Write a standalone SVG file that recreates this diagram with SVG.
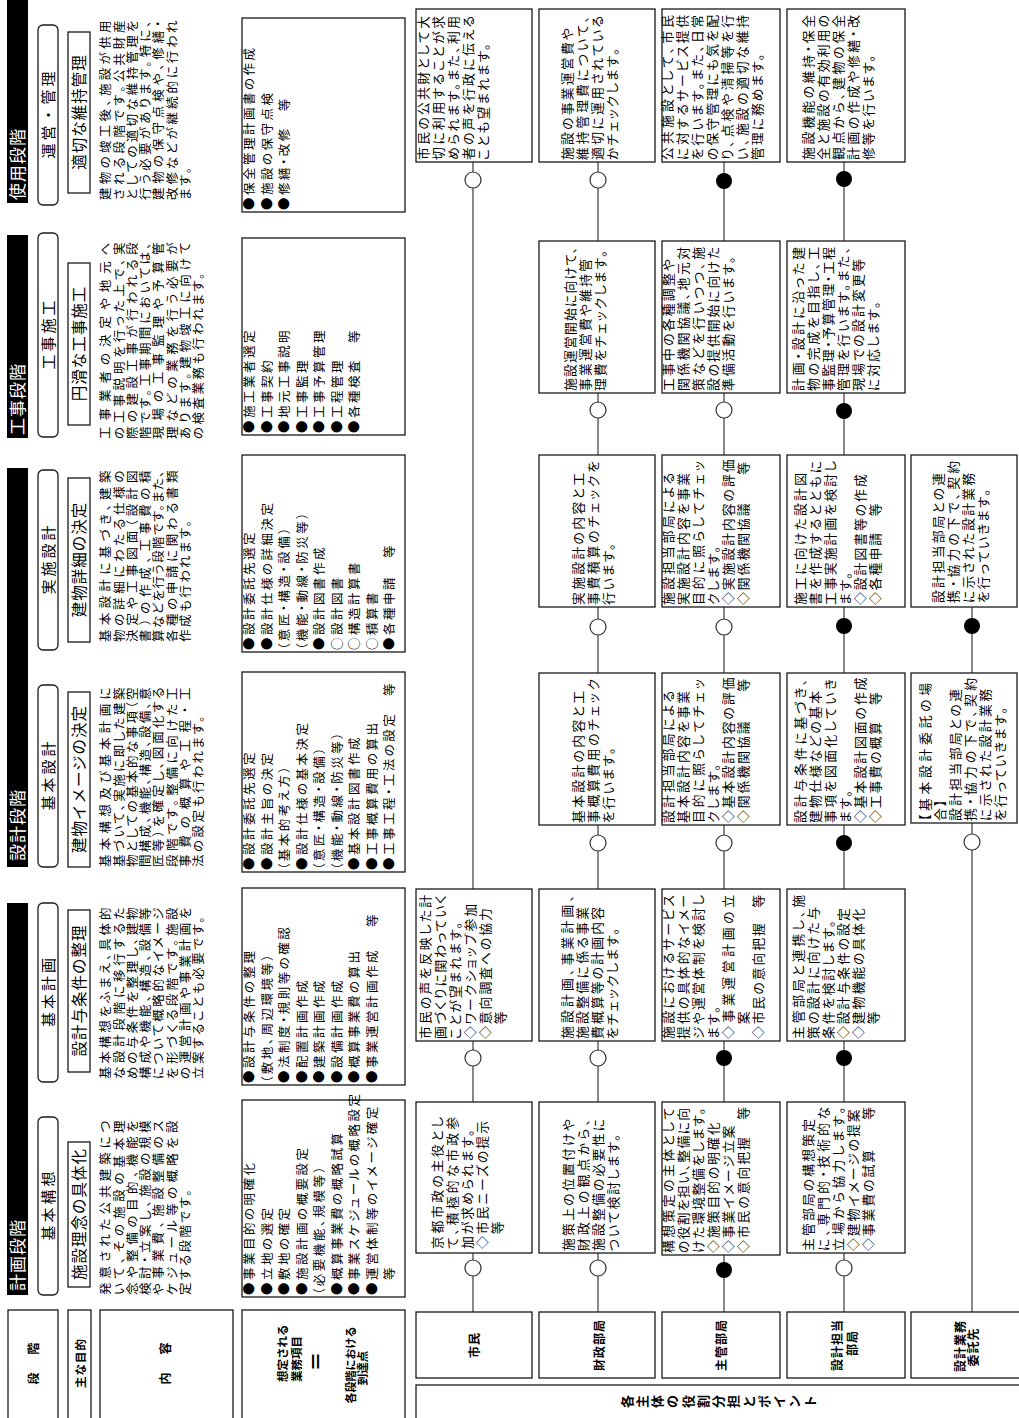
<svg xmlns="http://www.w3.org/2000/svg" width="1019" height="1418" viewBox="0 0 1019 1418">
<style>
.bx{fill:#fff;stroke:#1a1a1a;stroke-width:1.3}
.rb{fill:#fff;stroke:#1a1a1a;stroke-width:1.3}
.ln{stroke:#3a3a3a;stroke-width:1.2;fill:none}
.co{fill:#fff;stroke:#333;stroke-width:1.2}
.cf{fill:#000}
text{font-family:"Noto Sans CJK JP","Noto Sans",sans-serif;fill:#000}
.t{font-size:12.5px;letter-spacing:2.5px;font-feature-settings:"palt"}
.r{font-size:12.8px;letter-spacing:2px;font-feature-settings:"palt"}
.lb{font-size:12px;font-weight:bold;letter-spacing:1px}
.hd{font-size:17px;fill:#fff;letter-spacing:1px}
.ph{font-size:15px;letter-spacing:3px;text-anchor:middle}
.pu{font-size:15.5px;letter-spacing:1px;text-anchor:middle}
.e{text-anchor:end}
</style>
<rect width="1019" height="1418" fill="#fff"/>
<g transform="translate(0,1418) rotate(-90)">

<g id="left-labels">
<rect class="bx" x="-2" y="8" width="110" height="50"/>
<text class="lb" x="40" y="37.5" text-anchor="middle">段</text>
<text class="lb" x="70" y="37.5" text-anchor="middle">階</text>
<rect class="bx" x="-2" y="68" width="110" height="23"/>
<text class="lb" x="55" y="84.5" text-anchor="middle" style="font-size:11.5px">主な目的</text>
<rect class="bx" x="-2" y="100" width="110" height="133"/>
<text class="lb" x="40" y="169.5" text-anchor="middle">内</text>
<text class="lb" x="70" y="169.5" text-anchor="middle">容</text>
<rect class="bx" x="-2" y="242" width="110" height="163"/>
<text class="lb" x="36" y="286.5" style="font-size:11.5px;letter-spacing:0">想定される</text>
<text class="lb" x="36" y="300.5" style="font-size:11.5px;letter-spacing:0">業務項目</text>
<text class="lb" x="57" y="324" text-anchor="middle" style="font-size:20px">＝</text>
<text class="lb" x="53" y="354.5" text-anchor="middle" style="font-size:11px;letter-spacing:0">各段階における</text>
<text class="lb" x="50" y="367" text-anchor="middle" style="font-size:11.5px;letter-spacing:0">到達点</text>
</g>

<g id="roles-label">
<rect class="bx" x="-2" y="416" width="35" height="610"/>
<text class="lb" style="font-size:13px;letter-spacing:0" text-anchor="middle">
<tspan x="16.5" y="631.5">各</tspan><tspan x="16.5" y="646.7">主</tspan><tspan x="16.5" y="662">体</tspan><tspan x="16.5" y="677.2">の</tspan><tspan x="16.5" y="692.5">役</tspan><tspan x="16.5" y="707.7">割</tspan><tspan x="16.5" y="723">分</tspan><tspan x="16.5" y="738.2">担</tspan><tspan x="16.5" y="753.5">と</tspan><tspan x="16.5" y="768.7">ポ</tspan><tspan x="16.5" y="784">イ</tspan><tspan x="16.5" y="799.2">ン</tspan><tspan x="16.5" y="814.5">ト</tspan>
</text>
</g>

<g id="headers">
<rect x="123" y="7" width="392" height="21" fill="#000"/>
<text class="hd" x="127" y="24">計画段階</text>
<rect x="551" y="7" width="399" height="21" fill="#000"/>
<text class="hd" x="557" y="24">設計段階</text>
<rect x="980" y="7" width="203" height="21" fill="#000"/>
<text class="hd" x="983" y="24">工事段階</text>
<rect x="1215" y="7" width="210" height="21" fill="#000"/>
<text class="hd" x="1218" y="24">使用段階</text>

<rect class="bx" x="123" y="38" width="178" height="20" rx="5"/>
<text class="ph" x="213.5" y="53.7">基本構想</text>
<rect class="bx" x="336" y="38" width="179" height="20" rx="5"/>
<text class="ph" x="427" y="53.7">基本計画</text>
<rect class="bx" x="551" y="38" width="182" height="20" rx="5"/>
<text class="ph" x="643.5" y="53.7">基本設計</text>
<rect class="bx" x="768" y="38" width="180" height="20" rx="5"/>
<text class="ph" x="859.5" y="53.7">実施設計</text>
<rect class="bx" x="981" y="38" width="204" height="20" rx="5"/>
<text class="ph" x="1084.5" y="53.7">工事施工</text>
<rect class="bx" x="1213" y="38" width="180" height="20" rx="5"/>
<text class="ph" x="1304.5" y="53.7">運営・管理</text>

<rect class="bx" x="131" y="68" width="145" height="22"/>
<text class="pu" x="204" y="85">施設理念の具体化</text>
<rect class="bx" x="346" y="68" width="162" height="22"/>
<text class="pu" x="427.5" y="85">設計与条件の整理</text>
<rect class="bx" x="551" y="68" width="175" height="22"/>
<text class="pu" x="639" y="85">建物イメージの決定</text>
<rect class="bx" x="776" y="68" width="164" height="22"/>
<text class="pu" x="858.5" y="85">建物詳細の決定</text>
<rect class="bx" x="993" y="68" width="162" height="22"/>
<text class="pu" x="1074.5" y="85">円滑な工事施工</text>
<rect class="bx" x="1225" y="68" width="161" height="22"/>
<text class="pu" x="1306" y="85">適切な維持管理</text>
</g>

<g id="contents">
<text class="t" x="123" y="110.2" textLength="177" lengthAdjust="spacing">発意された公共建築につ</text>
<text class="t" x="123" y="123.5" textLength="177" lengthAdjust="spacing">いて、その施設の基本理</text>
<text class="t" x="123" y="136.8" textLength="177" lengthAdjust="spacing">念や整備の目的、機能を</text>
<text class="t" x="123" y="150.1" textLength="177" lengthAdjust="spacing">検討・立案し、施設の規模</text>
<text class="t" x="123" y="163.4" textLength="177" lengthAdjust="spacing">や事業費、施設整備のス</text>
<text class="t" x="123" y="176.7" textLength="177" lengthAdjust="spacing">ケジュール等の概略を設</text>
<text class="t" x="123" y="190">定する段階です。</text>

<text class="t" x="339" y="110.2" textLength="174" lengthAdjust="spacing">基本構想をふまえ、具体的</text>
<text class="t" x="339" y="123.5" textLength="174" lengthAdjust="spacing">な設計段階に移行するた</text>
<text class="t" x="339" y="136.8" textLength="174" lengthAdjust="spacing">めの与条件を整理し、建物</text>
<text class="t" x="339" y="150.1" textLength="174" lengthAdjust="spacing">構成や機能、構造、設備等</text>
<text class="t" x="339" y="163.4" textLength="174" lengthAdjust="spacing">について概略的なイメージ</text>
<text class="t" x="339" y="176.7" textLength="174" lengthAdjust="spacing">を形づくる段階です。施設</text>
<text class="t" x="339" y="190" textLength="174" lengthAdjust="spacing">の運営計画や事業計画を</text>
<text class="t" x="339" y="203.3" textLength="165" lengthAdjust="spacing">立案することも必要です。</text>

<text class="t" x="551" y="110.2" textLength="182" lengthAdjust="spacing">基本構想及び基本計画に</text>
<text class="t" x="551" y="123.5" textLength="182" lengthAdjust="spacing">基づいて、実施に即した建築</text>
<text class="t" x="551" y="136.8" textLength="182" lengthAdjust="spacing">物としての基本的な事項（空</text>
<text class="t" x="551" y="150.1" textLength="182" lengthAdjust="spacing">間構成、機能、構造、設備、意</text>
<text class="t" x="551" y="163.4" textLength="182" lengthAdjust="spacing">匠等）を確定し、図面化する</text>
<text class="t" x="551" y="176.7" textLength="182" lengthAdjust="spacing">段階です。整備に向けた工</text>
<text class="t" x="551" y="190" textLength="182" lengthAdjust="spacing">事費の概算や工程・工</text>
<text class="t" x="551" y="203.3">法の設定も行われます。</text>

<text class="t" x="776" y="110.2" textLength="174" lengthAdjust="spacing">基本設計に基づき、建築</text>
<text class="t" x="776" y="123.5" textLength="174" lengthAdjust="spacing">物の詳細にわたる仕様の</text>
<text class="t" x="776" y="136.8" textLength="174" lengthAdjust="spacing">決定や工事図面（設計図</text>
<text class="t" x="776" y="150.1" textLength="174" lengthAdjust="spacing">書）の作成、工事費の積</text>
<text class="t" x="776" y="163.4" textLength="174" lengthAdjust="spacing">算などを行う段階です。また、</text>
<text class="t" x="776" y="176.7" textLength="174" lengthAdjust="spacing">各種の申請に関わる書類</text>
<text class="t" x="776" y="190">作成も行われます。</text>

<text class="t" x="979" y="110.2" textLength="199" lengthAdjust="spacing">工事業者の決定や地元へ</text>
<text class="t" x="979" y="123.5" textLength="199" lengthAdjust="spacing">の工事説明を行った上で、実</text>
<text class="t" x="979" y="136.8" textLength="199" lengthAdjust="spacing">際の建設工事が行われる段</text>
<text class="t" x="979" y="150.1" textLength="199" lengthAdjust="spacing">階です。工事期間においては、</text>
<text class="t" x="979" y="163.4" textLength="199" lengthAdjust="spacing">現場の工事監理や予算管</text>
<text class="t" x="979" y="176.7" textLength="199" lengthAdjust="spacing">理などの業務を行う必要が</text>
<text class="t" x="979" y="190" textLength="199" lengthAdjust="spacing">あります。建物竣工に向けて</text>
<text class="t" x="979" y="203.3">の検査業務も行われます。</text>

<text class="t" x="1218" y="110.2" textLength="182" lengthAdjust="spacing">建物の竣工後、施設が供用</text>
<text class="t" x="1218" y="123.5" textLength="182" lengthAdjust="spacing">される段階です。公共財産</text>
<text class="t" x="1218" y="136.8" textLength="182" lengthAdjust="spacing">としての適切な維持管理を</text>
<text class="t" x="1218" y="150.1" textLength="182" lengthAdjust="spacing">行う必要があります。特に、</text>
<text class="t" x="1218" y="163.4" textLength="182" lengthAdjust="spacing">建物の保守点検や、修繕・</text>
<text class="t" x="1218" y="176.7" textLength="182" lengthAdjust="spacing">改修などが継続的に行われ</text>
<text class="t" x="1218" y="190">ます。</text>
</g>

<g id="tasks">
<rect class="bx" x="121" y="242" width="197" height="163"/>
<text class="t"><tspan x="123" y="254.2">●事業目的の明確化</tspan><tspan x="123" y="271.7">●立地の選定</tspan><tspan x="123" y="289.2">●敷地の確定</tspan><tspan x="123" y="306.7">●施設計画の概要設定</tspan><tspan x="123" y="324.2">（必要機能、規模等）</tspan><tspan x="123" y="341.7">●概算事業費の概略試算</tspan><tspan x="123" y="359.2">●事業スケジュールの概略設定</tspan><tspan x="123" y="376.7">●運営体制等のイメージ確定</tspan><tspan x="123" y="394.2">　等</tspan></text>

<rect class="bx" x="333" y="242" width="197" height="163"/>
<text class="t"><tspan x="335" y="254.2">●設計与条件の整理</tspan><tspan x="335" y="271.7">（敷地、周辺環境等）</tspan><tspan x="335" y="289.2">●法制度・規則等の確認</tspan><tspan x="335" y="306.7">●配置計画作成</tspan><tspan x="335" y="324.2">●建築計画作成</tspan><tspan x="335" y="341.7">●設備計画作成</tspan><tspan x="335" y="359.2">●概算事業費の算出</tspan><tspan x="335" y="376.7">●事業運営計画作成</tspan></text>
<text class="t" x="491" y="376.7">等</text>

<rect class="bx" x="546" y="242" width="200" height="163"/>
<text class="t"><tspan x="548" y="254.2">●設計委託先選定</tspan><tspan x="548" y="271.7">●設計主旨の決定</tspan><tspan x="548" y="289.2">（基本的考え方）</tspan><tspan x="548" y="306.7">●設計仕様の基本決定</tspan><tspan x="548" y="324.2">（意匠・構造・設備）</tspan><tspan x="548" y="341.7">（機能・動線・防災等）</tspan><tspan x="548" y="359.2">●基本設計図書作成</tspan><tspan x="548" y="376.7">●工事概算費用の算出</tspan><tspan x="548" y="394.2">●工事工程・工法の設定</tspan></text>
<text class="t" x="722" y="394.2">等</text>

<rect class="bx" x="766" y="242" width="197" height="163"/>
<text class="t"><tspan x="768" y="254.2">●設計委託先選定</tspan><tspan x="768" y="271.7">●設計仕様の詳細決定</tspan><tspan x="768" y="289.2">（意匠・構造・設備）</tspan><tspan x="768" y="306.7">（機能・動線・防災等）</tspan><tspan x="768" y="324.2">●設計図書作成</tspan><tspan x="768" y="341.7">○設計図書</tspan><tspan x="768" y="359.2">○構造計算書</tspan><tspan x="768" y="376.7">○積算書</tspan><tspan x="768" y="394.2">●各種申請</tspan></text>
<text class="t" x="860" y="394.2">等</text>

<rect class="bx" x="983" y="242" width="197" height="163"/>
<text class="t"><tspan x="985" y="254.2">●施工業者選定</tspan><tspan x="985" y="271.7">●工事契約</tspan><tspan x="985" y="289.2">●地元工事説明</tspan><tspan x="985" y="306.7">●工事監理</tspan><tspan x="985" y="324.2">●工事予算管理</tspan><tspan x="985" y="341.7">●工程管理</tspan><tspan x="985" y="359.2">●各種検査　等</tspan></text>

<rect class="bx" x="1206" y="242" width="194" height="163"/>
<text class="t"><tspan x="1208" y="254.2">●保全管理計画書の作成</tspan><tspan x="1208" y="271.7">●施設の保守点検</tspan><tspan x="1208" y="289.2">●修繕・改修　等</tspan></text>
</g>

<g id="connectors">
<path class="ln" d="M106 473H1256"/>
<path class="ln" d="M106 598H1256"/>
<path class="ln" d="M106 724H1256"/>
<path class="ln" d="M106 844H1256"/>
<path class="ln" d="M106 972H811"/>
</g>

<g id="row-labels">
<rect class="bx" x="40" y="416" width="66" height="116"/>
<text class="lb" x="73" y="479" text-anchor="middle">市民</text>
<rect class="bx" x="40" y="539" width="66" height="116"/>
<text class="lb" x="73" y="603.5" text-anchor="middle">財政部局</text>
<rect class="bx" x="40" y="662" width="66" height="118"/>
<text class="lb" x="73" y="725.5" text-anchor="middle">主管部局</text>
<rect class="bx" x="40" y="787" width="66" height="118"/>
<text class="lb" x="73" y="841.5" text-anchor="middle">設計担当</text>
<text class="lb" x="75" y="856.5" text-anchor="middle">部局</text>
<rect class="bx" x="40" y="911" width="66" height="115"/>
<text class="lb" x="72" y="964.5" text-anchor="middle">設計業務</text>
<text class="lb" x="71" y="978" text-anchor="middle">委託先</text>
</g>

<g id="r1-citizen">
<rect class="rb" x="165" y="416" width="151" height="116"/>
<text class="r" x="169" y="441.7" textLength="134" lengthAdjust="spacing">京都市政の主役とし</text>
<text class="r" x="169" y="456.7" textLength="134" lengthAdjust="spacing">て、積極的な市政参</text>
<text class="r" x="169" y="471.7">加が求められます。</text>
<text class="r" x="169" y="486.7">◇市民ニーズの提示</text>
<text class="r" x="169" y="501.7">　等</text>
<rect class="rb" x="377" y="416" width="152" height="116"/>
<text class="r" x="379" y="429.7" textLength="146" lengthAdjust="spacing">市民の声を反映した計</text>
<text class="r" x="379" y="444.7" textLength="146" lengthAdjust="spacing">画づくりに関わっていく</text>
<text class="r" x="379" y="459.7">ことが望まれます。</text>
<text class="r" x="379" y="474.7">◇ワークショップ参加</text>
<text class="r" x="379" y="489.7">◇意向調査への協力</text>
<text class="r" x="379" y="504.7">　等</text>
<rect class="rb" x="1256" y="416" width="153" height="116"/>
<text class="r" x="1258" y="427.7" textLength="146" lengthAdjust="spacing">市民の公共財として大</text>
<text class="r" x="1258" y="442.7" textLength="146" lengthAdjust="spacing">切に利用することが求</text>
<text class="r" x="1258" y="457.7" textLength="146" lengthAdjust="spacing">められます。また、利用</text>
<text class="r" x="1258" y="472.7" textLength="146" lengthAdjust="spacing">者の声を行政に伝える</text>
<text class="r" x="1258" y="487.7">ことも望まれます。</text>
</g>

<g id="r2-finance">
<rect class="rb" x="165" y="539" width="151" height="116"/>
<text class="r" x="167" y="572.7" textLength="134" lengthAdjust="spacing">施策上の位置付けや</text>
<text class="r" x="167" y="587.7" textLength="134" lengthAdjust="spacing">財政上の観点から、</text>
<text class="r" x="167" y="602.7" textLength="134" lengthAdjust="spacing">施設整備の必要性に</text>
<text class="r" x="167" y="617.7">ついて検討します。</text>
<rect class="rb" x="377" y="539" width="152" height="116"/>
<text class="r" x="379" y="571.7" textLength="146" lengthAdjust="spacing">施設計画、事業計画、</text>
<text class="r" x="379" y="586.7" textLength="134" lengthAdjust="spacing">施設整備に係る事業</text>
<text class="r" x="379" y="601.7" textLength="134" lengthAdjust="spacing">費概算等の計画内容</text>
<text class="r" x="379" y="616.7">をチェックします。</text>
<rect class="rb" x="593" y="539" width="152" height="116"/>
<text class="r" x="595" y="582.7" textLength="134" lengthAdjust="spacing">基本設計の内容と工</text>
<text class="r" x="595" y="597.7" textLength="146" lengthAdjust="spacing">事概算費用のチェック</text>
<text class="r" x="595" y="612.7">を行います。</text>
<rect class="rb" x="811" y="539" width="152" height="116"/>
<text class="r" x="813" y="582.7" textLength="134" lengthAdjust="spacing">実施設計の内容と工</text>
<text class="r" x="813" y="597.7" textLength="146" lengthAdjust="spacing">事費積算のチェックを</text>
<text class="r" x="813" y="612.7">行います。</text>
<rect class="rb" x="1025" y="539" width="152" height="116"/>
<text class="r" x="1027" y="574.7" textLength="146" lengthAdjust="spacing">施設運営開始に向けて、</text>
<text class="r" x="1027" y="589.7" textLength="134" lengthAdjust="spacing">事業運営費や維持管</text>
<text class="r" x="1027" y="604.7">理費をチェックします。</text>
<rect class="rb" x="1256" y="539" width="153" height="116"/>
<text class="r" x="1258" y="571.7" textLength="134" lengthAdjust="spacing">施設の事業運営費や</text>
<text class="r" x="1258" y="586.7" textLength="146" lengthAdjust="spacing">維持管理費について、</text>
<text class="r" x="1258" y="601.7" textLength="146" lengthAdjust="spacing">適切に運用されている</text>
<text class="r" x="1258" y="616.7">かチェックします。</text>
</g>

<g id="r3-owner">
<rect class="rb" x="163" y="662" width="153" height="118"/>
<text class="r" x="165" y="672.7" textLength="147" lengthAdjust="spacing">構想策定の主体として</text>
<text class="r" x="165" y="687.7" textLength="147" lengthAdjust="spacing">の役割を担い、整備に向</text>
<text class="r" x="165" y="702.7" textLength="147" lengthAdjust="spacing">けた環境整備をします。</text>
<text class="r" x="165" y="717.7">◇施策目的の明確化</text>
<text class="r" x="165" y="732.7">◇事業イメージ立案</text>
<text class="r" x="165" y="747.7">◇市民の意向把握</text>
<text class="r e" x="313" y="747.7">等</text>
<rect class="rb" x="377" y="662" width="152" height="118"/>
<text class="r" x="379" y="672.7" textLength="146" lengthAdjust="spacing">施設におけるサービス</text>
<text class="r" x="379" y="687.7" textLength="146" lengthAdjust="spacing">提供の具体的なイメー</text>
<text class="r" x="379" y="702.7" textLength="146" lengthAdjust="spacing">ジや運営体制を検討し</text>
<text class="r" x="379" y="717.7">ます。</text>
<text class="r" x="379" y="732.7" textLength="146" lengthAdjust="spacing">◇事業運営計画の立</text>
<text class="r" x="379" y="747.7">　案</text>
<text class="r" x="379" y="762.7">◇市民の意向把握</text>
<text class="r e" x="525" y="762.7">等</text>
<rect class="rb" x="593" y="662" width="152" height="118"/>
<text class="r" x="595" y="672.7" textLength="134" lengthAdjust="spacing">設計担当部局による</text>
<text class="r" x="595" y="687.7" textLength="134" lengthAdjust="spacing">基本設計内容を事業</text>
<text class="r" x="595" y="702.7" textLength="146" lengthAdjust="spacing">目的に照らしてチェッ</text>
<text class="r" x="595" y="717.7">クします。</text>
<text class="r" x="595" y="732.7">◇基本設計内容の評価</text>
<text class="r" x="595" y="747.7">◇関係機関協議</text>
<text class="r e" x="741" y="747.7">等</text>
<rect class="rb" x="811" y="662" width="152" height="118"/>
<text class="r" x="813" y="672.7" textLength="134" lengthAdjust="spacing">施設担当部局による</text>
<text class="r" x="813" y="687.7" textLength="134" lengthAdjust="spacing">実施設計内容を事業</text>
<text class="r" x="813" y="702.7" textLength="146" lengthAdjust="spacing">目的に照らしてチェッ</text>
<text class="r" x="813" y="717.7">クします。</text>
<text class="r" x="813" y="732.7">◇実施設計内容の評価</text>
<text class="r" x="813" y="747.7">◇関係機関協議</text>
<text class="r e" x="958" y="747.7">等</text>
<rect class="rb" x="1025" y="662" width="152" height="118"/>
<text class="r" x="1027" y="672.7" textLength="134" lengthAdjust="spacing">工事中の各種調整や</text>
<text class="r" x="1027" y="687.7" textLength="146" lengthAdjust="spacing">関係機関協議、地元対</text>
<text class="r" x="1027" y="702.7" textLength="146" lengthAdjust="spacing">策などを行いつつ、施</text>
<text class="r" x="1027" y="717.7" textLength="146" lengthAdjust="spacing">設の提供開始に向けた</text>
<text class="r" x="1027" y="732.7">準備活動を行います。</text>
<rect class="rb" x="1256" y="662" width="153" height="118"/>
<text class="r" x="1258" y="671.7" textLength="147" lengthAdjust="spacing">公共施設として、市民</text>
<text class="r" x="1258" y="686.7" textLength="147" lengthAdjust="spacing">に対するサービス提供</text>
<text class="r" x="1258" y="701.7" textLength="147" lengthAdjust="spacing">を行います。また、日常</text>
<text class="r" x="1258" y="716.7" textLength="147" lengthAdjust="spacing">の保守管理にも気を配</text>
<text class="r" x="1258" y="731.7" textLength="147" lengthAdjust="spacing">り、点検や清掃等を行</text>
<text class="r" x="1258" y="746.7" textLength="147" lengthAdjust="spacing">い、施設の適切な維持</text>
<text class="r" x="1258" y="761.7">管理に務めます。</text>
</g>

<g id="r4-design-dept">
<rect class="rb" x="165" y="787" width="151" height="118"/>
<text class="r" x="167" y="812.7" textLength="134" lengthAdjust="spacing">主管部局の構想策定</text>
<text class="r" x="167" y="827.7" textLength="146" lengthAdjust="spacing">に、専門的・技術的な</text>
<text class="r" x="167" y="842.7" textLength="146" lengthAdjust="spacing">立場から協力します。</text>
<text class="r" x="167" y="857.7">◇建物イメージの提案</text>
<text class="r" x="167" y="872.7">◇事業費の試算</text>
<text class="r e" x="313" y="872.7">等</text>
<rect class="rb" x="377" y="787" width="152" height="118"/>
<text class="r" x="379" y="802.7" textLength="146" lengthAdjust="spacing">主管部局と連携し、施</text>
<text class="r" x="379" y="817.7" textLength="134" lengthAdjust="spacing">策の設計に向けた与</text>
<text class="r" x="379" y="832.7">条件を検討します。</text>
<text class="r" x="379" y="847.7">◇設計与条件の設定</text>
<text class="r" x="379" y="862.7">◇建物機能の具体化</text>
<text class="r" x="379" y="877.7">　等</text>
<rect class="rb" x="593" y="787" width="152" height="118"/>
<text class="r" x="595" y="804.7" textLength="146" lengthAdjust="spacing">設計与条件に基づき、</text>
<text class="r" x="595" y="819.7" textLength="134" lengthAdjust="spacing">建物仕様などの基本</text>
<text class="r" x="595" y="834.7" textLength="146" lengthAdjust="spacing">事項を図面化していき</text>
<text class="r" x="595" y="849.7">ます。</text>
<text class="r" x="595" y="864.7">◇基本設計図面の作成</text>
<text class="r" x="595" y="879.7">◇工事費の概算　等</text>
<rect class="rb" x="811" y="787" width="152" height="118"/>
<text class="r" x="813" y="804.7" textLength="134" lengthAdjust="spacing">施工に向けた設計図</text>
<text class="r" x="813" y="819.7" textLength="146" lengthAdjust="spacing">書を作成するとともに</text>
<text class="r" x="813" y="834.7" textLength="146" lengthAdjust="spacing">工事実施計画を検討し</text>
<text class="r" x="813" y="849.7">ます。</text>
<text class="r" x="813" y="864.7">◇設計図書等の作成</text>
<text class="r" x="813" y="879.7">◇各種申請　等</text>
<rect class="rb" x="1025" y="787" width="152" height="118"/>
<text class="r" x="1027" y="802.7" textLength="146" lengthAdjust="spacing">計画・設計に沿った建</text>
<text class="r" x="1027" y="817.7" textLength="146" lengthAdjust="spacing">物の完成を目指し、工</text>
<text class="r" x="1027" y="832.7" textLength="146" lengthAdjust="spacing">事監理・予算管理・工程</text>
<text class="r" x="1027" y="847.7" textLength="146" lengthAdjust="spacing">管理を行います。また、</text>
<text class="r" x="1027" y="862.7" textLength="134" lengthAdjust="spacing">現場での設計変更等</text>
<text class="r" x="1027" y="877.7">に対応します。</text>
<rect class="rb" x="1256" y="787" width="153" height="118"/>
<text class="r" x="1258" y="812.7" textLength="147" lengthAdjust="spacing">施設機能の維持・保全</text>
<text class="r" x="1258" y="827.7" textLength="147" lengthAdjust="spacing">全と施設の有効利用の</text>
<text class="r" x="1258" y="842.7" textLength="147" lengthAdjust="spacing">観点から、建物の保全</text>
<text class="r" x="1258" y="857.7" textLength="147" lengthAdjust="spacing">計画の作成や修繕・改</text>
<text class="r" x="1258" y="872.7">修等を行います。</text>
</g>

<g id="r5-consultant">
<rect class="rb" x="595" y="911" width="150" height="106"/>
<text class="r" x="597" y="929.7" textLength="140" lengthAdjust="spacing">【基本設計委託の場</text>
<text class="r" x="597" y="944.7">合】</text>
<text class="r" x="597" y="959.7" textLength="134" lengthAdjust="spacing">設計担当部局との連</text>
<text class="r" x="597" y="974.7" textLength="145" lengthAdjust="spacing">携・協力の下で、契約</text>
<text class="r" x="597" y="989.7" textLength="134" lengthAdjust="spacing">に示された設計業務</text>
<text class="r" x="597" y="1004.7">を行っていきます。</text>
<rect class="rb" x="811" y="911" width="152" height="106"/>
<text class="r" x="815" y="942.7" textLength="132" lengthAdjust="spacing">設計担当部局との連</text>
<text class="r" x="815" y="957.7" textLength="144" lengthAdjust="spacing">携・協力の下で、契約</text>
<text class="r" x="815" y="972.7" textLength="132" lengthAdjust="spacing">に示された設計業務</text>
<text class="r" x="815" y="987.7">を行っていきます。</text>
</g>

<g id="markers">
<circle class="co" cx="150" cy="473" r="8"/>
<circle class="co" cx="360" cy="473" r="8"/>
<circle class="co" cx="1238" cy="473" r="8"/>
<circle class="co" cx="150" cy="598" r="8"/>
<circle class="co" cx="360" cy="598" r="8"/>
<circle class="co" cx="575" cy="598" r="8"/>
<circle class="co" cx="791" cy="598" r="8"/>
<circle class="co" cx="1008" cy="598" r="8"/>
<circle class="co" cx="1238" cy="598" r="8"/>
<circle class="cf" cx="148" cy="724" r="8"/>
<circle class="cf" cx="360" cy="724" r="8"/>
<circle class="co" cx="575" cy="724" r="8"/>
<circle class="co" cx="791" cy="724" r="8"/>
<circle class="co" cx="1008" cy="724" r="8"/>
<circle class="cf" cx="1237" cy="724" r="8"/>
<circle class="co" cx="150" cy="844" r="8"/>
<circle class="cf" cx="360" cy="844" r="8"/>
<circle class="cf" cx="575" cy="844" r="8"/>
<circle class="cf" cx="792" cy="844" r="8"/>
<circle class="cf" cx="1007" cy="844" r="8"/>
<circle class="cf" cx="1239" cy="844" r="8"/>
<circle class="co" cx="576" cy="972" r="8"/>
<circle class="cf" cx="792" cy="972" r="8"/>
</g>
</g>
</svg>
